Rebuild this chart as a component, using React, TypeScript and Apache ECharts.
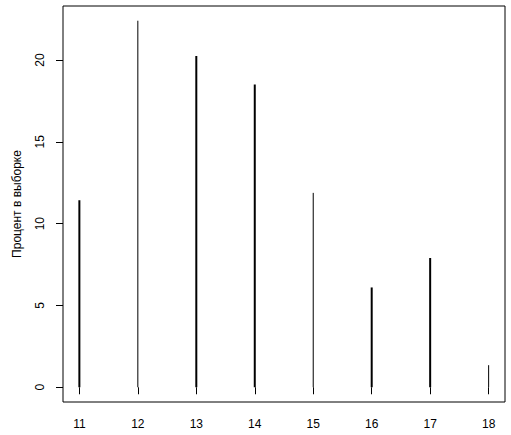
import React, { useEffect, useRef } from "react";
import * as echarts from "echarts";

const sizes = [11, 12, 13, 14, 15, 16, 17, 18];
const percents = [11.43, 22.4, 20.25, 18.5, 11.88, 6.1, 7.9, 1.35];
const xTicks = [11, 12, 13, 14, 15, 16, 17, 18];
const yTicks = [0, 5, 10, 15, 20];
const lineWidths = [2, 1, 2, 2, 1, 2, 2, 1];

export default function App() {
  const ref = useRef<HTMLDivElement>(null);
  useEffect(() => {
    if (!ref.current) return;
    const chart = echarts.init(ref.current, null, { renderer: "svg" });
    const font = "Liberation Sans, Arial, Helvetica, sans-serif";
    chart.setOption({
      animation: false,
      backgroundColor: "#ffffff",
      grid: {
        left: 63,
        right: 6,
        top: 6,
        bottom: 33,
        show: true,
        borderColor: "#000",
        borderWidth: 1,
        backgroundColor: "transparent",
      },
      xAxis: {
        type: "value",
        min: 10.72,
        max: 18.28,
        interval: 1,
        axisLine: { show: false },
        splitLine: { show: false },
        axisTick: {
          show: true,
          inside: false,
          length: 7,
          lineStyle: { color: "#000", width: 1 },
          customValues: xTicks,
        },
        axisLabel: {
          color: "#000",
          fontFamily: font,
          fontSize: 12,
          margin: 16,
          customValues: xTicks,
          formatter: (v: number) => String(v),
        },
      },
      yAxis: {
        type: "value",
        min: -0.9,
        max: 23.3,
        interval: 5,
        name: "Процент в выборке",
        nameLocation: "middle",
        nameGap: 40,
        nameRotate: 90,
        nameTextStyle: { color: "#000", fontFamily: font, fontSize: 12 },
        axisLine: { show: false },
        splitLine: { show: false },
        axisTick: {
          show: true,
          inside: false,
          length: 7,
          lineStyle: { color: "#000", width: 1 },
          customValues: yTicks,
        },
        axisLabel: {
          color: "#000",
          fontFamily: font,
          fontSize: 12,
          rotate: 90,
          margin: 17,
          customValues: yTicks,
          formatter: (v: number) => String(v),
        },
      },
      series: [
        {
          type: "custom",
          data: sizes.map((s, i) => [s, percents[i]]),
          renderItem: (params: any, api: any) => {
            const x = api.value(0);
            const y = api.value(1);
            const p0 = api.coord([x, 0]);
            const p1 = api.coord([x, y]);
            return {
              type: "line",
              shape: { x1: p0[0], y1: p0[1], x2: p1[0], y2: p1[1] },
              style: {
                stroke: "#000",
                lineWidth: lineWidths[params.dataIndex],
                lineCap: "butt",
              },
            };
          },
        },
      ],
    });
    return () => chart.dispose();
  }, []);
  return <div ref={ref} style={{ width: 511, height: 435, position: "absolute", left: 0, top: 0 }} />;
}
